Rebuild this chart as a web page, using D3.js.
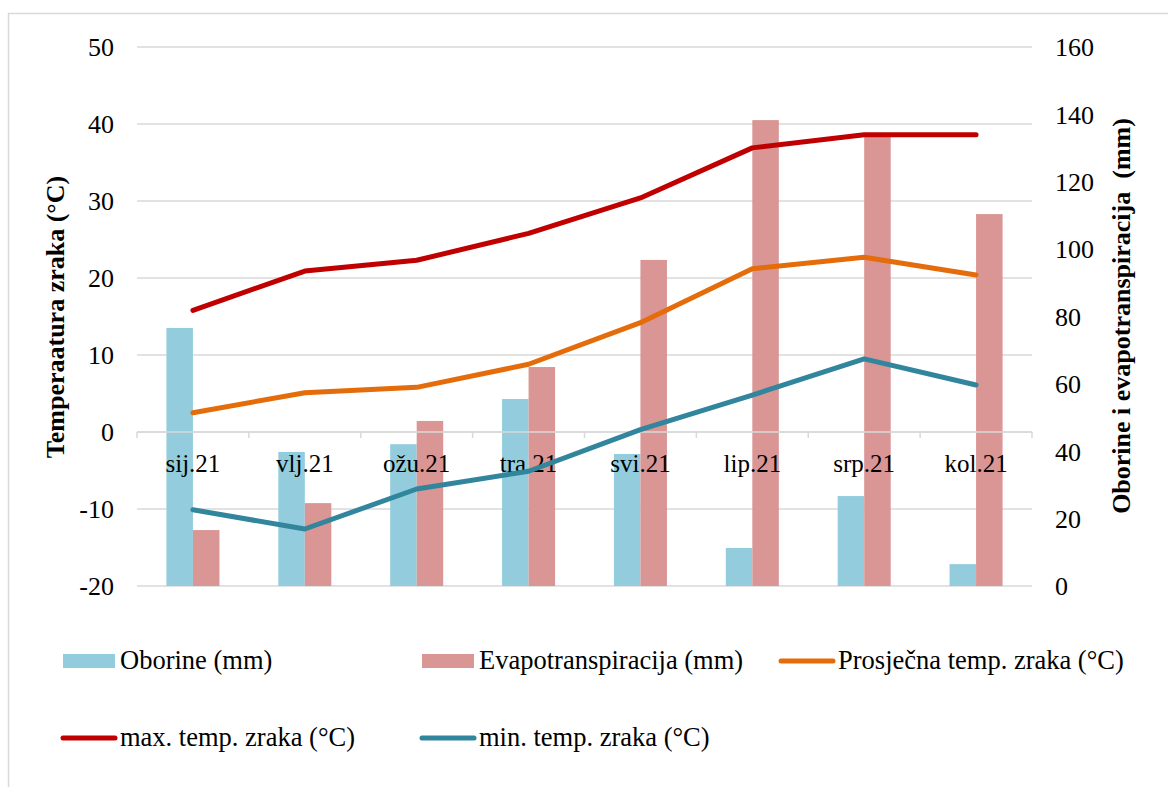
<!DOCTYPE html>
<html>
<head>
<meta charset="utf-8">
<script src="https://cdn.jsdelivr.net/npm/d3@7"></script>
<style>
  body { margin: 0; background: #fff; }
  svg { font-family: "Liberation Serif", "Times New Roman", serif; }
</style>
</head>
<body>
<script>
(function(){

// categories (months) and series
var months = ["sij.21", "vlj.21", "ožu.21", "tra.21", "svi.21", "lip.21", "srp.21", "kol.21"];
var oborine = [76.6, 39.8, 42.1, 55.5, 39.2, 11.3, 26.7, 6.5];         // mm
var evapo = [16.6, 24.6, 49.0, 65.0, 96.8, 138.3, 134.0, 110.4];       // mm
var tempAvg = [2.5, 5.1, 5.8, 8.8, 14.2, 21.2, 22.7, 20.4];            // °C
var tempMax = [15.8, 20.9, 22.3, 25.8, 30.4, 36.9, 38.6, 38.6];        // °C
var tempMin = [-10.1, -12.6, -7.4, -5.1, 0.3, 4.8, 9.5, 6.1];          // °C
var leftTicks = [-20, -10, 0, 10, 20, 30, 40, 50];
var rightTicks = [0, 20, 40, 60, 80, 100, 120, 140, 160];

var width = 1168, height = 787;
var plotLeft = 137, plotRight = 1032, plotTop = 47, plotBottom = 586;

var svg = d3.select("body").append("svg")
    .attr("width", width)
    .attr("height", height);

//chart frame
svg.append("rect")
    .attr("x", 8.5).attr("y", 13.5)
    .attr("width", 1175).attr("height", 790)
    .attr("fill", "#fff")
    .attr("stroke", "#d9d9d9")
    .attr("stroke-width", 1.5);

//scales
var x = d3.scaleBand()
    .domain(months)
    .range([plotLeft, plotRight]);

var xInner = d3.scaleBand()
    .domain(["oborine", "evapo"])
    .range([0, x.bandwidth()])
    .paddingInner(0)
    .paddingOuter(1.11);

var yLeft = d3.scaleLinear()
    .domain([-20, 50])
    .range([plotBottom, plotTop]);

var yRight = d3.scaleLinear()
    .domain([0, 160])
    .range([plotBottom, plotTop]);

//gridlines
svg.selectAll(".grid")
    .data(leftTicks)
    .enter()
    .append("line")
    .attr("class", "grid")
    .attr("x1", plotLeft).attr("x2", plotRight)
    .attr("y1", function(d){ return yLeft(d); })
    .attr("y2", function(d){ return yLeft(d); })
    .attr("stroke", "#d9d9d9")
    .attr("stroke-width", 1.5);

//bars
var barData = [];
months.forEach(function(m, i){
    barData.push({month: m, key: "oborine", value: oborine[i]});
    barData.push({month: m, key: "evapo", value: evapo[i]});
});
var barColors = {oborine: "#93cddd", evapo: "#d99694"};

svg.selectAll(".bars")
    .data(barData)
    .enter()
    .append("rect")
    .attr("class", "bars")
    .attr("x", function(d){ return x(d.month) + xInner(d.key); })
    .attr("width", xInner.bandwidth())
    .attr("y", function(d){ return yRight(d.value); })
    .attr("height", function(d){ return plotBottom - yRight(d.value); })
    .attr("fill", function(d){ return barColors[d.key]; });

//category axis along the zero line
var zeroY = yLeft(0);
svg.append("line")
    .attr("x1", plotLeft).attr("x2", plotRight)
    .attr("y1", zeroY).attr("y2", zeroY)
    .attr("stroke", "#d9d9d9")
    .attr("stroke-width", 1.5);

var tickXs = months.map(function(m){ return x(m); }).concat([plotRight]);
svg.selectAll(".catTick")
    .data(tickXs)
    .enter()
    .append("line")
    .attr("class", "catTick")
    .attr("x1", function(d){ return d; }).attr("x2", function(d){ return d; })
    .attr("y1", zeroY).attr("y2", zeroY + 6)
    .attr("stroke", "#d9d9d9")
    .attr("stroke-width", 1.5);

svg.selectAll(".catLabel")
    .data(months)
    .enter()
    .append("text")
    .attr("class", "catLabel")
    .attr("x", function(d){ return x(d) + x.bandwidth() / 2; })
    .attr("y", zeroY + 40)
    .attr("text-anchor", "middle")
    .attr("font-size", 25)
    .attr("fill", "#000")
    .text(function(d){ return d; });

//lines
var line = d3.line()
    .x(function(d, i){ return x(months[i]) + x.bandwidth() / 2; })
    .y(function(d){ return yLeft(d); });

var lineSeries = [
    {values: tempAvg, color: "#e46c0a"},
    {values: tempMax, color: "#c00000"},
    {values: tempMin, color: "#31859c"}
];

svg.selectAll(".tempLine")
    .data(lineSeries)
    .enter()
    .append("path")
    .attr("class", "tempLine")
    .attr("d", function(d){ return line(d.values); })
    .attr("fill", "none")
    .attr("stroke", function(d){ return d.color; })
    .attr("stroke-width", 5)
    .attr("stroke-linecap", "round")
    .attr("stroke-linejoin", "round");

//left axis labels
svg.selectAll(".leftLabel")
    .data(leftTicks)
    .enter()
    .append("text")
    .attr("class", "leftLabel")
    .attr("x", 114)
    .attr("y", function(d){ return yLeft(d); })
    .attr("dy", "0.36em")
    .attr("text-anchor", "end")
    .attr("font-size", 26)
    .text(function(d){ return d; });

//right axis labels
svg.selectAll(".rightLabel")
    .data(rightTicks)
    .enter()
    .append("text")
    .attr("class", "rightLabel")
    .attr("x", 1055)
    .attr("y", function(d){ return yRight(d); })
    .attr("dy", "0.36em")
    .attr("text-anchor", "start")
    .attr("font-size", 26)
    .text(function(d){ return d; });

//axis titles
svg.append("text")
    .attr("transform", "translate(64,317) rotate(-90)")
    .attr("text-anchor", "middle")
    .attr("font-size", 26)
    .attr("font-weight", "bold")
    .text("Temperaatura zraka (°C)");

svg.append("text")
    .attr("transform", "translate(1130,316) rotate(-90)")
    .attr("text-anchor", "middle")
    .attr("font-size", 26)
    .attr("font-weight", "bold")
    .style("white-space", "pre")
    .text("Oborine i evapotranspiracija  (mm)");

//legend
var legendItems = [
    {label: "Oborine (mm)", color: "#93cddd", type: "rect", x: 63, y: 661},
    {label: "Evapotranspiracija (mm)", color: "#d99694", type: "rect", x: 422, y: 661},
    {label: "Prosječna temp. zraka (°C)", color: "#e46c0a", type: "line", x: 781, y: 661},
    {label: "max. temp. zraka (°C)", color: "#c00000", type: "line", x: 63, y: 738},
    {label: "min. temp. zraka (°C)", color: "#31859c", type: "line", x: 422, y: 738}
];

var legend = svg.selectAll(".legend")
    .data(legendItems)
    .enter()
    .append("g")
    .attr("class", "legend")
    .attr("transform", function(d){ return "translate(" + d.x + "," + d.y + ")"; });

legend.filter(function(d){ return d.type == "rect"; })
    .append("rect")
    .attr("x", 0).attr("y", -7)
    .attr("width", 52).attr("height", 14)
    .attr("fill", function(d){ return d.color; });

legend.filter(function(d){ return d.type == "line"; })
    .append("line")
    .attr("x1", 0).attr("x2", 52)
    .attr("y1", 0).attr("y2", 0)
    .attr("stroke", function(d){ return d.color; })
    .attr("stroke-width", 5)
    .attr("stroke-linecap", "round");

legend.append("text")
    .attr("x", 57)
    .attr("y", 0)
    .attr("dy", "0.31em")
    .attr("font-size", 26.5)
    .text(function(d){ return d.label; });

})();
</script>
</body>
</html>
